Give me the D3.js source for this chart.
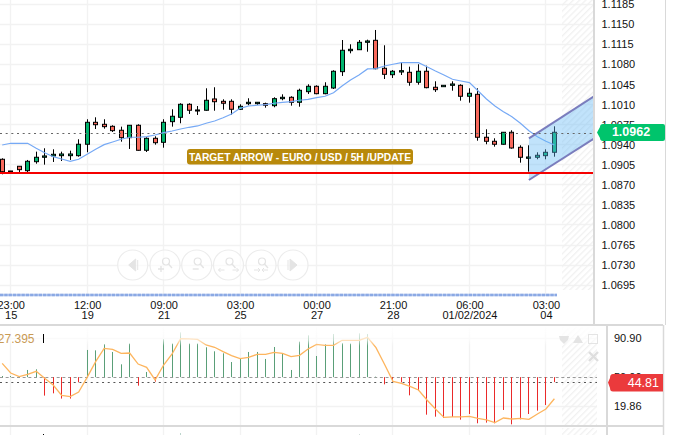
<!DOCTYPE html>
<html>
<head>
<meta charset="utf-8">
<style>
  html, body { margin: 0; padding: 0; background: #fff; }
  svg { display: block; }
  text { font-family: "Liberation Sans", Arial, sans-serif; }
  .axis path, .axis line { display: none; }
  .axis text { fill: #111; font-size: 11px; }
</style>
</head>
<body>
<svg width="681" height="435"></svg>
<script src="https://cdn.jsdelivr.net/npm/d3@7/dist/d3.min.js"></script>
<script>
// Candles, one entry per 5h bar
const opens = [1.09146,1.08924,1.09024,1.08947,1.09104,1.09181,1.09204,1.09209,1.09209,1.09209,1.09408,1.09791,1.09756,1.09721,1.09652,1.09523,1.09739,1.09303,1.09512,1.09442,1.09802,1.09878,1.10105,1.09988,1.10001,1.10198,1.10157,1.10157,1.10018,1.10116,1.10116,1.10116,1.10081,1.10203,1.10227,1.10140,1.10325,1.10419,1.10290,1.10389,1.10674,1.11040,1.11057,1.11186,1.11221,1.10733,1.10621,1.10668,1.10663,1.10489,1.10681,1.10402,1.10412,1.10436,1.10436,1.10245,1.10279,1.09530,1.09460,1.09408,1.09617,1.09355,1.09163,1.09181,1.09209,1.09268];
const closes = [1.08930,1.08942,1.08965,1.09111,1.09181,1.09204,1.09233,1.09238,1.09238,1.09408,1.09791,1.09749,1.09715,1.09645,1.09523,1.09739,1.09303,1.09512,1.09435,1.09791,1.09896,1.10105,1.10001,1.10006,1.10175,1.10150,1.10123,1.10018,1.10070,1.10140,1.10140,1.10088,1.10203,1.10227,1.10140,1.10349,1.10419,1.10290,1.10419,1.10681,1.11047,1.11064,1.11186,1.11209,1.10726,1.10628,1.10681,1.10691,1.10489,1.10681,1.10395,1.10360,1.10436,1.10459,1.10245,1.10297,1.09530,1.09460,1.09408,1.09617,1.09343,1.09181,1.09186,1.09216,1.09268,1.09617];
const highs = [1.09163,1.08942,1.09029,1.09134,1.09279,1.09338,1.09320,1.09279,1.09296,1.09495,1.09844,1.09878,1.09844,1.09739,1.09715,1.09739,1.09756,1.09530,1.09547,1.09844,1.10018,1.10123,1.10123,1.10075,1.10384,1.10402,1.10192,1.10192,1.10105,1.10210,1.10145,1.10133,1.10227,1.10279,1.10245,1.10377,1.10454,1.10436,1.10489,1.10698,1.11226,1.11151,1.11226,1.11232,1.11401,1.11134,1.10703,1.10838,1.10761,1.10803,1.10778,1.10506,1.10436,1.10506,1.10454,1.10384,1.10384,1.09669,1.09512,1.09622,1.09652,1.09390,1.09390,1.09268,1.09320,1.09721];
const lows = [1.08884,1.08916,1.08924,1.08924,1.09069,1.09052,1.09099,1.09116,1.09134,1.09191,1.09268,1.09674,1.09680,1.09622,1.09453,1.09326,1.09296,1.09273,1.09401,1.09348,1.09715,1.09774,1.09936,1.09919,1.09993,1.09993,1.10011,1.09924,1.10011,1.10088,1.10098,1.10046,1.10053,1.10175,1.10081,1.10063,1.10285,1.10280,1.10280,1.10372,1.10599,1.10994,1.11052,1.11022,1.10715,1.10546,1.10564,1.10616,1.10429,1.10447,1.10384,1.10320,1.10412,1.10342,1.10168,1.10133,1.09470,1.09408,1.09366,1.09401,1.09331,1.09087,1.08930,1.09146,1.09146,1.09191];
const movingAvg = [1.09395,1.09425,1.09425,1.09425,1.09338,1.09261,1.09191,1.09151,1.09111,1.09146,1.09233,1.09320,1.09401,1.09448,1.09495,1.09530,1.09530,1.09540,1.09570,1.09610,1.09639,1.09674,1.09704,1.09727,1.09774,1.09814,1.09871,1.09936,1.10035,1.10075,1.10088,1.10098,1.10123,1.10140,1.10150,1.10175,1.10192,1.10220,1.10245,1.10307,1.10424,1.10529,1.10616,1.10721,1.10726,1.10773,1.10803,1.10831,1.10831,1.10831,1.10761,1.10686,1.10616,1.10541,1.10511,1.10482,1.10342,1.10198,1.10075,1.09976,1.09889,1.09774,1.09645,1.09540,1.09460,1.09395];

// Lower panel: oscillator bars grow from the 50 level, signal is the orange line
const oscBars = [51.2,51.2,51.2,57.5,58.2,30.7,33.1,27.6,27.6,44.6,78.4,78.0,84.3,76.3,63.4,85.0,41.1,55.4,45.3,89.5,85.0,96.8,85.0,85.0,81.2,77.0,74.9,65.8,70.0,76.3,76.3,69.0,81.5,74.9,57.5,87.1,93.7,72.1,84.3,95.1,85.3,85.0,95.8,95.1,50.5,42.5,45.3,44.6,31.0,35.9,10.8,8.7,7.3,8.4,5.6,11.5,1.8,2.5,1.8,15.7,0.7,6.0,11.5,15.0,20.9,44.81];
const oscSignal = [64.4,54.3,50.5,53.0,56.1,48.8,41.8,31.0,29.6,34.5,49.8,66.2,80.1,79.1,74.9,75.2,63.7,60.3,47.1,62.7,74.2,90.2,89.9,89.5,83.6,81.2,76.6,72.5,69.3,70.7,73.8,73.8,75.9,74.9,71.4,72.8,79.4,84.3,83.2,83.2,88.5,88.5,88.5,91.6,80.8,63.4,45.6,43.5,40.4,36.6,26.1,16.7,8.0,8.4,8.4,9.1,7.0,5.3,2.5,7.3,6.3,7.0,5.9,11.5,16.7,27.4];

const priceTicks = [1.1185,1.115,1.1115,1.108,1.1045,1.101,1.0975,1.094,1.0905,1.087,1.0835,1.08,1.0765,1.073,1.0695];
const tickBars = [1,10,19,28,37,46,55,64];
const timeLabels = ["23:00","12:00","09:00","03:00","00:00","21:00","06:00","03:00"];
const dayLabels = ["15","19","21","25","27","28","01/02/2024","04"];
const oscTicks = [90.90,50.00,19.86];

const lastPrice = 1.0962, lastLine = 1.0960, lastOsc = 44.81, oscBase = 50, supportLevel = 1.08907;
const channelBars = [62,69.7];
const channelUpper = [1.09512,1.10250];
const channelLower = [1.08785,1.09512];
const bannerText = "TARGET ARROW - EURO / USD / 5H /UPDATE";
const signalLabel = "27.395";

let svg = d3.select("svg");
let x = d3.scaleLinear().domain([0, 65]).range([2.2, 554.4]);
let y = d3.scaleLinear().domain([1.115, 1.0695]).range([24.3, 285.2]);
let yOsc = d3.scaleLinear().domain([19.86, 90.90]).range([406, 338]);
let snap = v => Math.floor(v) + 0.5;

let defs = svg.append("defs");
let hatch = defs.append("pattern").attr("id", "hatch")
    .attr("width", 4.4).attr("height", 4.4)
    .attr("patternUnits", "userSpaceOnUse")
    .attr("patternTransform", "rotate(45)");
hatch.append("rect").attr("width", 1.3).attr("height", 4.4).attr("fill", "#f1f1f1");
let fade = defs.append("linearGradient").attr("id", "fade")
    .attr("x1", 0).attr("x2", 0).attr("y1", 0).attr("y2", 1);
fade.append("stop").attr("offset", "0%").attr("stop-color", "#fff").attr("stop-opacity", 0.95);
fade.append("stop").attr("offset", "70%").attr("stop-color", "#fff").attr("stop-opacity", 0.6);
fade.append("stop").attr("offset", "100%").attr("stop-color", "#fff").attr("stop-opacity", 0);
defs.append("clipPath").attr("id", "mainClip").append("rect")
    .attr("width", 594).attr("height", 298);
defs.append("clipPath").attr("id", "oscClip").append("rect")
    .attr("y", 326).attr("width", 597).attr("height", 99);

// grid
let grid = svg.append("g").attr("stroke", "#f2f2f2").attr("stroke-width", 1.4);
grid.selectAll(".h").data(priceTicks).enter().append("line")
    .attr("x1", 0).attr("x2", 594)
    .attr("y1", d => snap(y(d))).attr("y2", d => snap(y(d)));
grid.selectAll(".v").data(tickBars).enter().append("line")
    .attr("y1", 0).attr("y2", 296)
    .attr("x1", d => snap(x(d))).attr("x2", d => snap(x(d)));
grid.selectAll(".vo").data(tickBars).enter().append("line")
    .attr("y1", 327).attr("y2", 435)
    .attr("x1", d => snap(x(d))).attr("x2", d => snap(x(d)));
grid.selectAll(".ho").data([90.90, 19.86]).enter().append("line")
    .attr("x1", 0).attr("x2", 597)
    .attr("y1", d => snap(yOsc(d))).attr("y2", d => snap(yOsc(d)));

// hatched right margin, same in all panels
svg.append("rect").attr("x", 562).attr("y", 0).attr("width", 32).attr("height", 290).attr("fill", "url(#hatch)");
svg.append("rect").attr("x", 562).attr("y", 327).attr("width", 35).attr("height", 98).attr("fill", "url(#hatch)");
svg.append("rect").attr("x", 562).attr("y", 428).attr("width", 35).attr("height", 7).attr("fill", "url(#hatch)");

// main panel
let main = svg.append("g").attr("clip-path", "url(#mainClip)");

let candle = main.selectAll(".candle").data(opens).enter().append("g")
    .attr("class", "candle");
candle.append("line")
    .attr("x1", (d, i) => snap(x(i))).attr("x2", (d, i) => snap(x(i)))
    .attr("y1", (d, i) => y(highs[i])).attr("y2", (d, i) => y(lows[i]))
    .attr("stroke", "#000").attr("stroke-width", 1);
candle.append("rect")
    .attr("x", (d, i) => snap(x(i)) - 2)
    .attr("width", 4)
    .attr("y", (d, i) => y(Math.max(opens[i], closes[i])))
    .attr("height", (d, i) => Math.abs(y(opens[i]) - y(closes[i])))
    .attr("fill", (d, i) => closes[i] >= opens[i] ? "#00b46e" : "#f8695c")
    .attr("stroke", "#000").attr("stroke-width", 1);

main.append("path").datum(movingAvg)
    .attr("fill", "none").attr("stroke", "#76a9f5").attr("stroke-width", 1.2)
    .attr("d", d3.line().x((d, i) => x(i)).y(d => y(d)));

// channel drawn over the last candles, they show through it
let channelArea = d3.area()
    .x((d, i) => x(channelBars[i]))
    .y0((d, i) => y(channelLower[i]))
    .y1((d, i) => y(channelUpper[i]));
main.append("path").datum(channelBars)
    .attr("fill", "rgba(100,185,245,0.4)")
    .attr("d", channelArea);
[channelUpper, channelLower].forEach(function (edge) {
    main.append("path").datum(edge)
        .attr("fill", "none").attr("stroke", "#7a7dbd").attr("stroke-width", 2)
        .attr("d", d3.line().x((d, i) => x(channelBars[i])).y(d => y(d)));
});

main.append("line")
    .attr("x1", 0).attr("x2", 594)
    .attr("y1", y(supportLevel)).attr("y2", y(supportLevel))
    .attr("stroke", "#f50000").attr("stroke-width", 2);
main.append("line")
    .attr("x1", 0).attr("x2", 594)
    .attr("y1", snap(y(lastLine))).attr("y2", snap(y(lastLine)))
    .attr("stroke", "#666").attr("stroke-width", 1.2).attr("stroke-dasharray", "2 3.67");

// banner
let banner = svg.append("g");
banner.append("rect")
    .attr("x", 187).attr("y", 149).attr("width", 226).attr("height", 15.5).attr("rx", 3)
    .attr("fill", "#b8890b");
banner.append("text")
    .attr("x", 189).attr("y", 157).attr("dy", "0.35em")
    .attr("textLength", 222).attr("lengthAdjust", "spacingAndGlyphs")
    .attr("font-size", 11).attr("font-weight", "bold").attr("fill", "#fff")
    .text(bannerText);

// dashed blue strip at the bottom of the main panel
svg.append("line")
    .attr("x1", 0).attr("x2", 557).attr("y1", 295).attr("y2", 295)
    .attr("stroke", "#c3d3f2").attr("stroke-width", 2.5);
svg.append("line")
    .attr("x1", 0).attr("x2", 557).attr("y1", 295).attr("y2", 295)
    .attr("stroke", "#8ba9e4").attr("stroke-width", 2.5).attr("stroke-dasharray", "3.3 1");

// navigator buttons
const navX = [132.7, 165, 196.7, 228.5, 261, 293];
const navInk = "#e4e4e4";
let nav = svg.append("g").selectAll("g").data(navX).enter().append("g")
    .attr("transform", d => "translate(" + d + ",265)");
nav.append("circle").attr("r", 15)
    .attr("fill", "rgba(255,255,255,0.6)").attr("stroke", "#ececec").attr("stroke-width", 1.2);
nav.filter((d, i) => i == 0).append("path").attr("d", "M-4,0L3,-6V6Z M5,-5V5").attr("fill", navInk).attr("stroke", navInk);
nav.filter((d, i) => i == 5).append("path").attr("d", "M4,0L-3,-6V6Z M-5,-5V5").attr("fill", navInk).attr("stroke", navInk);
nav.filter((d, i) => i > 0 && i < 5).append("circle").attr("cx", 1).attr("cy", -3.5).attr("r", 3.5)
    .attr("fill", "none").attr("stroke", navInk).attr("stroke-width", 1.2);
nav.filter((d, i) => i > 0 && i < 5).append("path").attr("d", "M3.5,-1L7,3")
    .attr("stroke", navInk).attr("stroke-width", 1.4);
nav.filter((d, i) => i == 1).append("path").attr("d", "M-7,4H-1 M-4,1V7").attr("stroke", navInk).attr("stroke-width", 1.4);
nav.filter((d, i) => i == 2).append("path").attr("d", "M-4,4H2").attr("stroke", navInk).attr("stroke-width", 1.4);
nav.filter((d, i) => i == 3).append("path").attr("d", "M-10,5H-4 M-8,3L-10,5L-8,7 M4,5H10 M8,3L10,5L8,7").attr("fill", "none").attr("stroke", navInk);
nav.filter((d, i) => i == 4).append("path").attr("d", "M-7,5H-1 M-3,3L-1,5L-3,7 M7,5H1 M3,3L1,5L3,7").attr("fill", "none").attr("stroke", navInk);

// lower panel
let osc = svg.append("g").attr("clip-path", "url(#oscClip)");
osc.append("line")
    .attr("x1", 0).attr("x2", 597)
    .attr("y1", snap(yOsc(oscBase))).attr("y2", snap(yOsc(oscBase)))
    .attr("stroke", "#999").attr("stroke-dasharray", "3 2.67");
osc.append("line")
    .attr("x1", 0).attr("x2", 597)
    .attr("y1", snap(yOsc(lastOsc))).attr("y2", snap(yOsc(lastOsc)))
    .attr("stroke", "#555").attr("stroke-dasharray", "2 3.67");
osc.selectAll(".bar").data(oscBars).enter().append("line")
    .attr("x1", (d, i) => snap(x(i))).attr("x2", (d, i) => snap(x(i)))
    .attr("y1", yOsc(oscBase))
    .attr("y2", d => yOsc(d))
    .attr("stroke", d => d >= oscBase ? "#5a9f78" : "#ea2a2a")
    .attr("stroke-width", 1);
osc.append("path").datum(oscSignal)
    .attr("fill", "none").attr("stroke", "#fdb55e").attr("stroke-width", 1.3)
    .attr("d", d3.line().x((d, i) => x(i)).y(d => yOsc(d)));
svg.append("rect")
    .attr("x", 0).attr("y", 327).attr("width", 597).attr("height", 19)
    .attr("fill", "url(#fade)");

svg.append("text")
    .attr("x", 34.5).attr("y", 339).attr("dy", "0.35em")
    .attr("text-anchor", "end").attr("font-size", 12).attr("fill", "#c99a55")
    .text(signalLabel);
svg.append("line").attr("x1", 43.5).attr("x2", 43.5).attr("y1", 334).attr("y2", 343).attr("stroke", "#000");

// panel toolbar
let tools = svg.append("g").attr("fill", "#e4e4e4");
tools.append("path").attr("d", "M559,336h10l-1,4l-4,4l-4,-4z");
tools.append("path").attr("d", "M573,343l3,-5l2,-3l2,3l3,5z");
tools.append("rect").attr("x", 588.5).attr("y", 334.5).attr("width", 9).attr("height", 9)
    .attr("fill", "none").attr("stroke", "#e4e4e4");
tools.append("path").attr("d", "M589,352L598,361M598,352L589,361").attr("stroke", "#dedede").attr("stroke-width", 2.4);

// borders
let borders = svg.append("g").attr("stroke", "#d9d9d9");
borders.append("line").attr("x1", 0).attr("x2", 663).attr("y1", 325).attr("y2", 325).attr("stroke-width", 2);
borders.append("line").attr("x1", 0).attr("x2", 663).attr("y1", 426).attr("y2", 426).attr("stroke-width", 2);
borders.append("line").attr("x1", 594).attr("x2", 594).attr("y1", 0).attr("y2", 325).attr("stroke-width", 2);
borders.append("line").attr("x1", 665.5).attr("x2", 665.5).attr("y1", 0).attr("y2", 325);
borders.append("line").attr("x1", 607).attr("x2", 607).attr("y1", 325).attr("y2", 435).attr("stroke-width", 2);
borders.append("line").attr("x1", 663.5).attr("x2", 663.5).attr("y1", 325).attr("y2", 435).attr("stroke-width", 1.5);

// axes
svg.append("g").attr("class", "axis")
    .attr("transform", "translate(598,0)")
    .call(d3.axisRight(y).tickValues(priceTicks).tickSize(0).tickPadding(3.5).tickFormat(d3.format(".4f")));
svg.append("g").attr("class", "axis")
    .attr("transform", "translate(611,0)")
    .call(d3.axisRight(yOsc).tickValues(oscTicks).tickSize(0).tickPadding(3).tickFormat(d3.format(".2f")));
svg.append("g").attr("class", "axis")
    .attr("transform", "translate(0,297.5)")
    .call(d3.axisBottom(x).tickValues(tickBars).tickSize(0).tickPadding(4).tickFormat((d, i) => timeLabels[i]));
svg.append("g").attr("class", "axis")
    .attr("transform", "translate(0,307.5)")
    .call(d3.axisBottom(x).tickValues(tickBars).tickSize(0).tickPadding(4).tickFormat((d, i) => dayLabels[i]));

// last value tags
svg.append("path")
    .attr("d", "M597,132.5L600,127Q600,124 603,124H663Q665,124 665,126V139Q665,141 663,141H603Q600,141 600,138Z")
    .attr("fill", "#00c46c");
svg.append("text")
    .attr("x", 631).attr("y", y(lastPrice)).attr("dy", "0.35em")
    .attr("text-anchor", "middle").attr("font-size", 12.5).attr("font-weight", "bold").attr("fill", "#fff")
    .text(d3.format(".4f")(lastPrice));
svg.append("path")
    .attr("d", "M608,382.5L610,378Q610,374 613,374H663V391.5H613Q610,391.5 610,388Z")
    .attr("fill", "#eb3a3c");
svg.append("text")
    .attr("x", 659).attr("y", 382.7).attr("dy", "0.35em")
    .attr("text-anchor", "end").attr("font-size", 12.5).attr("fill", "#fff")
    .text(d3.format(".2f")(lastOsc));

// tops of the next panel's marks just show under the border
svg.append("line").attr("x1", 43.5).attr("x2", 43.5).attr("y1", 434).attr("y2", 435).attr("stroke", "#000");
svg.append("line").attr("x1", 180.5).attr("x2", 180.5).attr("y1", 433).attr("y2", 435).attr("stroke", "#bcd5cc");
svg.append("line").attr("x1", 359.5).attr("x2", 359.5).attr("y1", 434).attr("y2", 435).attr("stroke", "#d5dfdc");
</script>
</body>
</html>
